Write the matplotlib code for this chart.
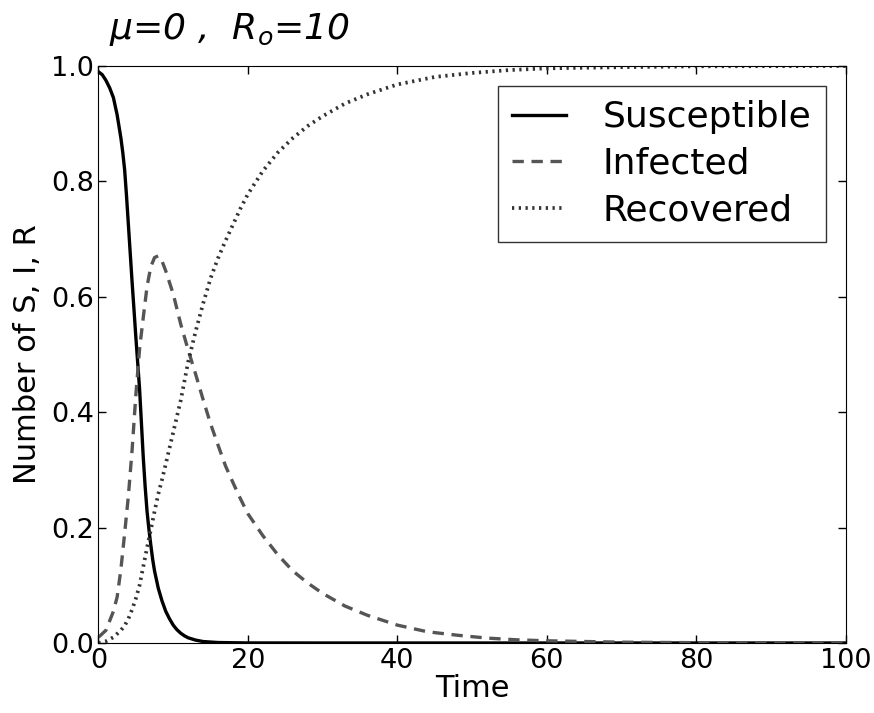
import numpy as np
import matplotlib
matplotlib.use('Agg')
import matplotlib.pyplot as plt

# valores (SIR, mu=0, R0=10)
t_S = [0, 0.5, 1, 1.5, 2, 2.5, 3, 3.25, 3.5, 3.75, 4, 4.25, 4.5, 4.75, 5, 5.25, 5.5, 5.75, 6, 6.25,
       6.5, 6.75, 7, 7.25, 7.5, 8, 8.5, 9, 9.5, 10, 10.5, 11, 11.5, 12, 13, 14, 16, 20, 30, 100]
S = [0.99, 0.985, 0.975, 0.962, 0.945, 0.915, 0.875, 0.85, 0.82, 0.775, 0.725, 0.675, 0.625, 0.578,
     0.53, 0.485, 0.44, 0.38, 0.32, 0.27, 0.228, 0.197, 0.17, 0.145, 0.125, 0.095, 0.073, 0.055,
     0.042, 0.031, 0.023, 0.017, 0.0125, 0.009, 0.005, 0.0025, 0.0008, 0.0001, 0.0, 0.0]

t_I = [0, 1, 2, 2.5, 3, 3.5, 4, 4.5, 5, 5.5, 6, 6.5, 7, 7.5, 8, 8.5, 9, 10, 11, 12, 13, 14, 15, 16,
       17, 18, 19, 20, 22, 24, 26, 28, 30, 33, 36, 40, 44, 48, 52, 56, 60, 70, 80, 90, 100]
I = [0.01, 0.022, 0.055, 0.08, 0.128, 0.19, 0.255, 0.335, 0.43, 0.51, 0.565, 0.618, 0.652, 0.668,
     0.671, 0.662, 0.645, 0.605, 0.553, 0.508, 0.466, 0.422, 0.38, 0.343, 0.307, 0.278, 0.25, 0.224,
     0.186, 0.153, 0.125, 0.104, 0.086, 0.064, 0.048, 0.031, 0.0195, 0.0135, 0.0085, 0.0055, 0.0038,
     0.0014, 0.0005, 0.0002, 0.0001]

t_R = [0, 1, 2, 3, 3.5, 4, 4.5, 5, 5.5, 6, 6.5, 7, 7.5, 8, 8.5, 9, 10, 11, 12, 13, 14, 15, 16, 17,
       18, 19, 20, 22, 24, 26, 28, 30, 33, 36, 40, 45, 50, 55, 60, 70, 80, 100]
R = [0.0, 0.003, 0.01, 0.022, 0.03, 0.042, 0.058, 0.077, 0.1, 0.133, 0.165, 0.196, 0.228, 0.258,
     0.283, 0.31, 0.365, 0.42, 0.487, 0.54, 0.588, 0.632, 0.667, 0.697, 0.725, 0.753, 0.778, 0.818,
     0.85, 0.875, 0.896, 0.913, 0.935, 0.951, 0.968, 0.981, 0.988, 0.993, 0.996, 0.998, 0.9995, 1.0]

x_ticks = [0, 20, 40, 60, 80, 100]
y_ticks = [0.0, 0.2, 0.4, 0.6, 0.8, 1.0]

plt.rcParams['xtick.direction'] = 'in'
plt.rcParams['ytick.direction'] = 'in'
plt.rcParams['xtick.top'] = True
plt.rcParams['ytick.right'] = True

fig = plt.figure(figsize=(8.74, 7.13), dpi=100)
ax = fig.add_axes([0.1127, 0.0982, 0.8547, 0.8092])

lw = 2.4
ax.plot(t_S, S, '-', color='black', lw=lw, label='Susceptible')
ax.plot(t_I, I, color='#555555', lw=lw, linestyle=(0, (3.4, 2.3)), label='Infected')
ax.plot(t_R, R, color='#333333', lw=lw + 0.3, linestyle=(0, (0.6, 1.2)), label='Recovered')

ax.set_xlim(0, 100)
ax.set_ylim(0, 1.0)
ax.set_xticks(x_ticks)
ax.set_yticks(y_ticks)
ax.set_xticklabels([str(v) for v in x_ticks])
ax.set_yticklabels(['%.1f' % v for v in y_ticks])
ax.tick_params(labelsize=19.5, length=6, width=1)
ax.set_xlabel('Time', fontsize=22, labelpad=0)
ax.set_ylabel('Number of S, I, R', fontsize=22, labelpad=6)

leg = ax.legend(loc='upper right', fontsize=26, handlelength=1.5, fancybox=False,
                borderaxespad=0.55, handletextpad=1.0, labelspacing=0.35, borderpad=0.4)
leg.get_frame().set_edgecolor('black')
leg.get_frame().set_linewidth(1.0)

# anotacion a mano arriba
fig.text(0.125, 0.945, r'$\mu$=0 ,  R$_o$=10', fontsize=26, style='italic', color='black')

fig.savefig('out.png', dpi=100)
